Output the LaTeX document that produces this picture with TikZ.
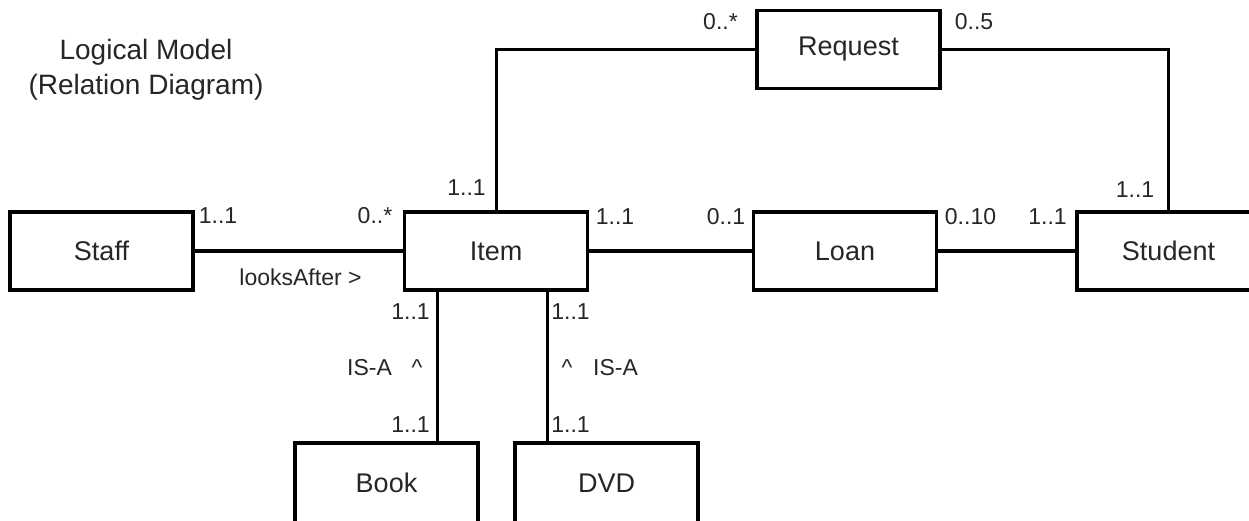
\documentclass[tikz,border=0pt]{standalone}
\usepackage{fontspec}
\setmainfont{Liberation Sans}
\begin{document}
\begin{tikzpicture}[x=1pt,y=-1pt,
  entity/.style={draw, line width=3.5pt, minimum width=183pt, minimum height=78pt,
                 inner sep=0pt, font=\fontsize{27}{30}\selectfont, text=black!85},
  link/.style={line width=3pt},
  mult/.style={inner sep=0pt, font=\fontsize{23}{26}\selectfont, text=black!85},
  ]
\useasboundingbox (0,0) rectangle (1249,521);
\fill[white] (0,0) rectangle (1249,521);
\clip (0,0) rectangle (1249,521);

% title
\node[align=center, inner sep=0pt, font=\fontsize{28}{35}\selectfont, text=black!85]
  (title) at (146,70) {Logical Model\\(Relation Diagram)};

% entities
\node[entity] (Staff)   at (101.5,251) {Staff};
\node[entity] (Item)    at (496,251)   {Item};
\node[entity] (Loan)    at (845,251)   {Loan};
\node[entity] (Request) at (848.5,49.5) {Request};
\node[entity] (Student) at (1168.5,251) {Student};
\node[entity, minimum height=81pt] (Book) at (386.5,483.5) {\raisebox{1.5pt}{Book}};
\node[entity, minimum height=81pt] (DVD)  at (606.5,483.5) {\raisebox{1.5pt}{DVD}};

% relationships
\draw[link] (Staff) -- (Item);
\draw[link] (Item) -- (Loan);
\draw[link] (Loan) -- (Student);
\draw[link] (Item.north) |- (Request.west);
\draw[link] (Request.east) -| (Student.north);
\draw[link] ([xshift=-59pt]Item.south) -- ([xshift=-59pt]Item.south |- Book.north);
\draw[link] ([xshift=51pt]Item.south) -- ([xshift=51pt]Item.south |- DVD.north);

% multiplicities and role names
\node[mult] (m1)  at (218,216)    {1..1};
\node[mult] (m2)  at (375,216)    {0..*};
\node[mult] (rel) at (300.5,277)  {looksAfter >};
\node[mult] (m3)  at (466.5,188)  {1..1};
\node[mult] (m4)  at (615,217)    {1..1};
\node[mult] (m5)  at (726,217)    {0..1};
\node[mult] (m6)  at (720.5,22)   {0..*};
\node[mult] (m7)  at (974,22)     {0..5};
\node[mult] (m8)  at (970.5,217)  {0..10};
\node[mult] (m9)  at (1047.5,217) {1..1};
\node[mult] (m10) at (1135,190)   {1..1};
\node[mult] (m11) at (410.5,312)  {1..1};
\node[mult] (m12) at (410.5,425)  {1..1};
\node[mult] (m13) at (570.5,312)  {1..1};
\node[mult] (m14) at (570.5,425)  {1..1};
\node[mult, anchor=base] (isa1) at (369.5,375) {IS-A};
\node[mult, anchor=base] (up1)  at (417,375)   {\textasciicircum};
\node[mult, anchor=base] (up2)  at (567,375)   {\textasciicircum};
\node[mult, anchor=base] (isa2) at (615.5,375) {IS-A};
\end{tikzpicture}
\end{document}
